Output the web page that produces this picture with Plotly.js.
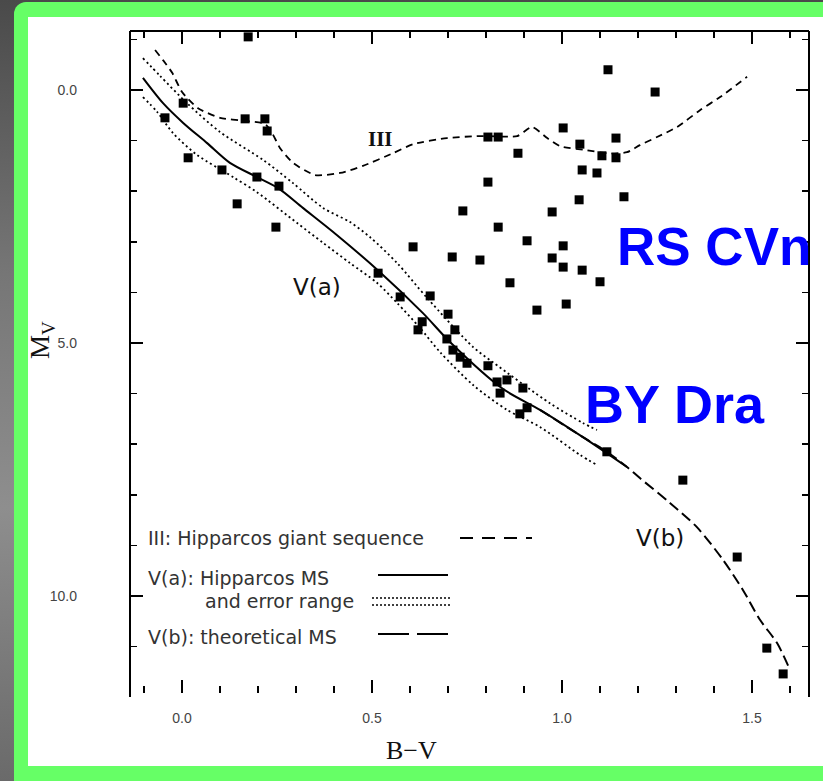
<!DOCTYPE html>
<html>
<head>
<meta charset="utf-8">
<script src="https://cdn.plot.ly/plotly-3.0.1.min.js"></script>
<style>
  html, body { margin: 0; padding: 0; }
  body {
    width: 823px; height: 781px; position: relative; overflow: hidden;
    background: linear-gradient(to bottom, #4a4a4a 0%, #767676 35%, #8e8e8e 65%, #6a6a6a 100%);
  }
  #frame { position: absolute; left: 14px; top: 2px; width: 840px; height: 779px;
           background: #66ff66; border-radius: 12px 0 0 0; }
  #card  { position: absolute; left: 28px; top: 17px; width: 795px; height: 749px; background: #ffffff; }
  #chart { position: absolute; left: 0; top: 0; width: 823px; height: 781px; }
</style>
</head>
<body>
<div id="frame"></div>
<div id="card"></div>
<div id="chart"></div>
<script>
// III: Hipparcos giant sequence
const giantBV = [-0.071, -0.05, -0.026, 0.0, 0.042, 0.1, 0.166, 0.218, 0.237, 0.258, 0.292, 0.35, 0.416, 0.476, 0.555, 0.608, 0.697, 0.784, 0.882, 0.921, 0.961, 0.995, 1.066, 1.118, 1.171, 1.205, 1.25, 1.303, 1.363, 1.416, 1.487];
const giantMv = [-0.79, -0.59, -0.34, 0.04, 0.36, 0.55, 0.61, 0.67, 0.85, 1.15, 1.44, 1.68, 1.64, 1.50, 1.25, 1.07, 0.95, 0.91, 0.91, 0.73, 0.95, 1.11, 1.19, 1.25, 1.23, 1.09, 0.93, 0.73, 0.40, 0.14, -0.26];

// V(a): Hipparcos main sequence
const msBV = [-0.103, -0.05, 0.003, 0.066, 0.126, 0.197, 0.253, 0.318, 0.408, 0.521, 0.634, 0.705, 0.845, 0.942, 1.055, 1.171];
const msMv = [-0.24, 0.26, 0.65, 1.05, 1.44, 1.72, 1.94, 2.33, 2.87, 3.60, 4.41, 4.98, 5.91, 6.32, 6.86, 7.45];

// error range of V(a)
const upperBV = [-0.103, -0.058, 0.013, 0.1, 0.213, 0.292, 0.371, 0.442, 0.495, 0.566, 0.645, 0.766, 0.818, 0.968, 1.055, 1.092];
const upperMv = [-0.63, -0.28, 0.26, 0.83, 1.38, 1.84, 2.33, 2.61, 2.91, 3.42, 4.11, 5.08, 5.38, 6.19, 6.58, 6.72];
const lowerBV = [-0.103, -0.066, -0.024, 0.039, 0.134, 0.197, 0.303, 0.371, 0.442, 0.513, 0.566, 0.626, 0.679, 0.766, 0.855, 0.942, 1.047, 1.092];
const lowerMv = [0.14, 0.43, 0.85, 1.28, 1.72, 2.02, 2.63, 3.02, 3.42, 3.81, 4.21, 4.70, 5.18, 5.83, 6.32, 6.66, 7.21, 7.41];

// V(b): theoretical main sequence
const theoBV = [0.942, 1.055, 1.118, 1.171, 1.205, 1.284, 1.355, 1.424, 1.476, 1.521, 1.566, 1.60];
const theoMv = [6.32, 6.86, 7.15, 7.45, 7.67, 8.16, 8.64, 9.29, 9.88, 10.47, 10.93, 11.46];

// stars
const earlyBV = [0.174, 0.003, -0.045, 0.166, 0.218, 0.224, 0.016, 0.105, 0.197, 0.255, 0.145, 0.247];
const earlyMv = [-1.05, 0.26, 0.55, 0.57, 0.57, 0.81, 1.34, 1.58, 1.72, 1.90, 2.25, 2.71];
const rscvnBV = [1.121, 1.245, 1.003, 0.805, 0.832, 1.142, 1.047, 0.884, 1.105, 1.142, 1.053, 1.092, 0.805, 1.163, 1.045, 0.739, 0.974, 0.832, 0.908, 1.003, 0.608, 0.711, 0.784, 0.974, 1.003, 1.053, 0.863, 1.1, 0.934, 1.011];
const rscvnMv = [-0.40, 0.04, 0.75, 0.93, 0.93, 0.95, 1.07, 1.25, 1.30, 1.34, 1.58, 1.64, 1.82, 2.11, 2.17, 2.39, 2.41, 2.71, 2.98, 3.08, 3.10, 3.30, 3.36, 3.32, 3.50, 3.56, 3.81, 3.79, 4.35, 4.23];
const bydraBV = [0.516, 0.574, 0.653, 0.632, 0.621, 0.70, 0.718, 0.697, 0.713, 0.732, 0.75, 0.805, 0.829, 0.837, 0.855, 0.897, 0.908, 0.889, 1.118, 1.318, 1.461, 1.539, 1.582];
const bydraMv = [3.62, 4.09, 4.07, 4.58, 4.74, 4.43, 4.74, 4.92, 5.14, 5.28, 5.40, 5.45, 5.77, 5.99, 5.73, 5.89, 6.28, 6.40, 7.15, 7.71, 9.23, 11.03, 11.54];

const xTickLabels = ['0.0', '0.5', '1.0', '1.5'];
const yTickLabels = ['0.0', '5.0', '10.0'];

// plot box in page pixels
const box = { l: 130, r: 809, t: 31, b: 693 };
const W = 823, H = 781;
const px = v => (v - box.l) / (box.r - box.l);
const py = v => (box.b - v) / (box.b - box.t);

const lineTrace = (x, y, dash, width, smooth) => ({
  x, y, type: 'scatter', mode: 'lines', hoverinfo: 'skip', showlegend: false,
  line: { color: '#000', width, dash, shape: 'spline', smoothing: smooth }
});
const starTrace = (x, y) => ({
  x, y, type: 'scatter', mode: 'markers', showlegend: false, cliponaxis: false,
  marker: { symbol: 'square', size: 9, color: '#000' }
});

const traces = [
  lineTrace(giantBV, giantMv, '7px,5px', 1.8, 0.6),
  lineTrace(upperBV, upperMv, '2px,3px', 1.8, 0.8),
  lineTrace(lowerBV, lowerMv, '2px,3px', 1.8, 0.8),
  lineTrace(msBV, msMv, 'solid', 2, 0.8),
  lineTrace(theoBV, theoMv, '11px,5px', 2, 0.8),
  starTrace(earlyBV, earlyMv),
  starTrace(rscvnBV, rscvnMv),
  starTrace(bydraBV, bydraMv)
];

const tickFont = { family: 'Liberation Sans, Arial, sans-serif', size: 14, color: '#444' };
const axisCommon = {
  showgrid: false, zeroline: false, showline: false,
  ticks: 'inside', ticklen: 13, tickwidth: 1.5, tickcolor: '#000',
  mirror: 'allticks', tickfont: tickFont, fixedrange: true
};

const legendFont = { family: 'DejaVu Sans, sans-serif', size: 19, color: '#333' };
const seg = (x0, x1, y, dash, width) => ({
  type: 'line', xref: 'paper', yref: 'paper',
  x0: px(x0), x1: px(x1), y0: py(y), y1: py(y),
  line: { color: '#000', width, dash }
});
const note = (text, x, y, font, extra) => Object.assign({
  text, xref: 'paper', yref: 'paper', x: px(x), y: py(y),
  showarrow: false, font
}, extra || {});
const mid = { xanchor: 'center', yanchor: 'middle' };
const left = { xanchor: 'left', yanchor: 'middle' };

const layout = {
  width: W, height: H,
  margin: { l: box.l, r: W - box.r, t: box.t, b: H - box.b, pad: 0 },
  paper_bgcolor: 'rgba(0,0,0,0)', plot_bgcolor: 'rgba(0,0,0,0)',
  showlegend: false,
  xaxis: Object.assign({}, axisCommon, {
    range: [-0.137, 1.650],
    tickmode: 'array', tickvals: [0, 0.5, 1.0, 1.5], ticktext: xTickLabels,
    ticklabelstandoff: 15,
    minor: { ticks: 'inside', dtick: 0.1, tick0: 0, ticklen: 7, tickwidth: 1.5, tickcolor: '#000', showgrid: false }
  }),
  yaxis: Object.assign({}, axisCommon, {
    range: [11.917, -1.166],
    tickmode: 'array', tickvals: [0, 5, 10], ticktext: yTickLabels,
    ticklabelstandoff: 52,
    minor: { ticks: 'inside', dtick: 1, tick0: 0, ticklen: 7, tickwidth: 1.5, tickcolor: '#000', showgrid: false }
  }),
  shapes: [
    // frame: left, top, right
    { type: 'line', xref: 'paper', yref: 'paper', x0: 0, x1: 0, y0: py(697), y1: 1, line: { color: '#000', width: 2 } },
    { type: 'line', xref: 'paper', yref: 'paper', x0: 0, x1: 1, y0: 1, y1: 1, line: { color: '#000', width: 2 } },
    { type: 'line', xref: 'paper', yref: 'paper', x0: 1, x1: 1, y0: py(697), y1: 1, line: { color: '#000', width: 2 } },
    // key samples
    seg(460, 532, 538, '13px,9px', 1.8),
    seg(378, 448, 575, 'solid', 2),
    seg(372, 452, 598, '2px,2px', 1.5),
    seg(372, 452, 605, '2px,2px', 1.5),
    seg(378, 448, 634, '31px,8px', 2)
  ],
  annotations: [
    note('III: Hipparcos giant sequence', 146, 538, legendFont, left),
    note('V(a): Hipparcos MS', 146, 578, legendFont, left),
    note('and error range', 203, 601, legendFont, left),
    note('V(b): theoretical MS', 146, 637, legendFont, left),
    note('III', 380, 139, { family: 'Liberation Serif, serif', size: 21, color: '#111', weight: 'bold' }, mid),
    note('V(a)', 317, 287, { family: 'DejaVu Sans, sans-serif', size: 23, color: '#111' }, mid),
    note('V(b)', 660, 538, { family: 'DejaVu Sans, sans-serif', size: 23, color: '#111' }, mid),
    note('RS CVn', 714, 247, { family: 'Liberation Sans, Arial, sans-serif', size: 53, color: '#0000ff', weight: 'bold' }, mid),
    note('BY Dra', 675, 404, { family: 'Liberation Sans, Arial, sans-serif', size: 54, color: '#0000ff', weight: 'bold' }, mid),
    note('B\u2212V', 411, 750, { family: 'Liberation Serif, serif', size: 26, color: '#111' }, mid),
    note('M<sub>V</sub>', 42, 340, { family: 'Liberation Serif, serif', size: 27, color: '#111' }, Object.assign({ textangle: -90 }, mid))
  ]
};

Plotly.newPlot('chart', traces, layout, { displayModeBar: false, staticPlot: true });
</script>
</body>
</html>
